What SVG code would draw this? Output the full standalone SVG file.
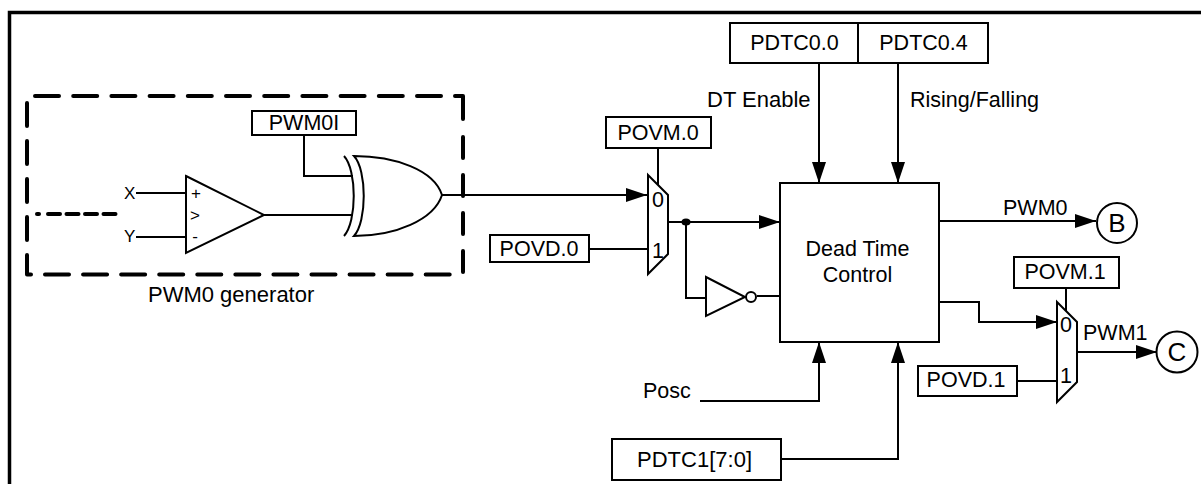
<svg xmlns="http://www.w3.org/2000/svg" width="1201" height="484" viewBox="0 0 1201 484">
<style>
text{font-family:"Liberation Sans",Arial,sans-serif;font-size:21.5px;fill:#000}
.m{text-anchor:middle}
.l{font-size:22px}
.s{font-size:17px}
.c{font-size:26px}
.box,.gate{fill:#fff;stroke:#000;stroke-width:2}
.w{fill:none;stroke:#000;stroke-width:2}
.d{fill:none;stroke:#000;stroke-width:4;stroke-linecap:round;stroke-linejoin:round}
</style>
<defs>
<marker id="a" markerUnits="userSpaceOnUse" markerWidth="22" markerHeight="14" refX="21" refY="7" orient="auto"><path d="M0 0L21 7L0 14Z" fill="#000"/></marker>
</defs>
<rect width="1201" height="484" fill="#fff"/>
<path d="M9.5 484V12.5H1201" fill="none" stroke="#000" stroke-width="3.5"/>
<g id="pwm0-generator">
<path class="d" stroke-dasharray="24 14.2" d="M35 96H445"/>
<path class="d" d="M455 96H463V119"/>
<path class="d" stroke-dasharray="21 17" d="M463 137V272"/>
<path class="d" stroke-dasharray="24 14.07" d="M45 274.5H450"/>
<path class="d" d="M27 255V274.5H31"/>
<path class="d" stroke-dasharray="23 15" d="M27 103V241"/>
<text class="l" x="148" y="302">PWM0 generator</text>
</g>
<g id="connectors">
<path class="d" stroke-width="3.5" d="M37 214H39"/>
<path class="d" stroke-dasharray="12 6.5" d="M48 214H116"/>
<path class="w" d="M304 135V176H353"/>
<path class="w" d="M136 193H186M136 237H186M264 215H353"/>
<path class="w" d="M442 195H647" marker-end="url(#a)"/>
<path class="w" d="M658 148V185"/>
<path class="w" d="M589 249H648"/>
<path class="w" d="M668 222H780" marker-end="url(#a)"/>
<path class="w" d="M686 222V298H706M757 296H780"/>
<path class="w" d="M819 63V183" marker-end="url(#a)"/>
<path class="w" d="M898 63V183" marker-end="url(#a)"/>
<path class="w" d="M700 401H819V342" marker-end="url(#a)"/>
<path class="w" d="M781 459H898V342" marker-end="url(#a)"/>
<path class="w" d="M939 221H1096" marker-end="url(#a)"/>
<path class="w" d="M939 302H979V322H1057" marker-end="url(#a)"/>
<path class="w" d="M1066 288V312"/>
<path class="w" d="M1017 381H1057"/>
<path class="w" d="M1077 352H1157" marker-end="url(#a)"/>
<ellipse cx="686" cy="222" rx="4.5" ry="3.5" fill="#000"/>
</g>
<g id="pwm0i"><rect class="box" x="252" y="111" width="104" height="24"/><text class="m" x="304" y="130">PWM0I</text></g>
<g id="comparator">
<path class="gate" d="M186 176L264 215L186 253Z"/>
<text class="s" x="124" y="199">X</text><text class="s" x="124" y="242">Y</text>
<text class="m s" x="196" y="199">+</text><text class="m s" x="195" y="221">&gt;</text><text class="m s" x="195" y="242">-</text>
</g>
<g id="xor">
<path class="w" d="M344 156C357 170 357 222 344 236"/>
<path class="gate" d="M354 156C395 156 434 170 442 195C434 220 395 236 354 236C367 222 367 170 354 156Z"/>
</g>
<g id="povm0"><rect class="box" x="606" y="117" width="105" height="31"/><text class="m" x="658" y="140">POVM.0</text></g>
<g id="povd0"><rect class="box" x="490" y="235" width="99" height="27"/><text class="m" x="539" y="256">POVD.0</text></g>
<g id="mux0"><path class="gate" d="M648 175L668 195V254L648 274Z"/><text class="m" x="658" y="207">0</text><text class="m" x="658" y="258">1</text></g>
<g id="inverter"><path class="gate" d="M706 277L745 297L706 316Z"/><circle class="gate" cx="751" cy="297" r="5"/></g>
<g id="dead-time"><rect class="box" x="780" y="183" width="159" height="159"/><text class="m" x="857.5" y="256">Dead Time</text><text class="m" x="857.5" y="282">Control</text></g>
<g id="pdtc00"><rect class="box" x="730" y="23" width="128" height="40"/><text class="m" x="794.5" y="50">PDTC0.0</text></g>
<g id="pdtc04"><rect class="box" x="858" y="23" width="130" height="40"/><text class="m" x="923.5" y="50">PDTC0.4</text></g>
<text class="l" x="707" y="107">DT Enable</text>
<text x="910" y="107">Rising/Falling</text>
<text x="1003" y="215">PWM0</text>
<g id="b"><circle class="gate" cx="1117" cy="223" r="20"/><text class="m c" x="1117" y="232">B</text></g>
<g id="povm1"><rect class="box" x="1014" y="257" width="105" height="31"/><text class="m" x="1065" y="279">POVM.1</text></g>
<g id="povd1"><rect class="box" x="918" y="366" width="99" height="30"/><text class="m" x="966" y="387">POVD.1</text></g>
<g id="mux1"><path class="gate" d="M1057 302L1077 322V382L1057 402Z"/><text class="m" x="1066" y="332">0</text><text class="m" x="1066" y="383">1</text></g>
<text x="1083" y="340">PWM1</text>
<g id="c"><circle class="gate" cx="1177" cy="352" r="20.5"/><text class="m c" x="1177" y="361">C</text></g>
<text x="643" y="398">Posc</text>
<g id="pdtc1"><rect class="box" x="612" y="439" width="169" height="41"/><text class="m l" x="694.5" y="467" textLength="115">PDTC1[7:0]</text></g>
</svg>
